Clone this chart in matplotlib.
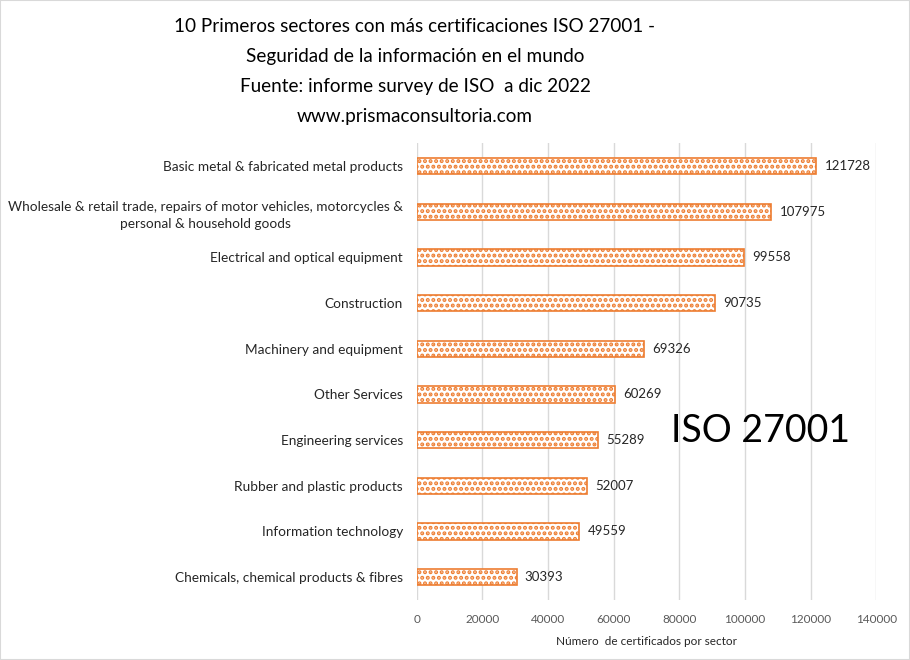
import matplotlib.pyplot as plt
from matplotlib.patches import Rectangle

plt.rcParams["font.family"] = ["Lato", "DejaVu Sans"]
plt.rcParams["hatch.color"] = "#ED7D31"
plt.rcParams["hatch.linewidth"] = 2.0

sectors = [
    "Basic metal & fabricated metal products",
    "Wholesale & retail trade, repairs of motor vehicles, motorcycles &\npersonal & household goods",
    "Electrical and optical equipment",
    "Construction",
    "Machinery and equipment",
    "Other Services",
    "Engineering services",
    "Rubber and plastic products",
    "Information technology",
    "Chemicals, chemical products & fibres",
]
certificates = [121728, 107975, 99558, 90735, 69326, 60269, 55289, 52007, 49559, 30393]
xticks = [0, 20000, 40000, 60000, 80000, 100000, 120000, 140000]

title = ("10 Primeros sectores con más certificaciones ISO 27001 -\n"
         "Seguridad de la información en el mundo\n"
         "Fuente: informe survey de ISO  a dic 2022\n"
         "www.prismaconsultoria.com")

fig = plt.figure(figsize=(9.1, 6.6), dpi=100)
ax = fig.add_axes([0.458, 0.091, 0.505, 0.692])

pos = list(range(len(sectors)))[::-1]
ax.barh(pos, certificates, height=0.36, color="white",
        edgecolor="#ED7D31", linewidth=1.2, hatch="...", zorder=3)
for p, v in zip(pos, certificates):
    ax.text(v + 2500, p, str(v), va="center", ha="left", fontsize=9.5, color="#262626")

ax.set_yticks(pos)
ax.set_yticklabels(sectors, fontsize=9.8, color="#262626", multialignment="center",
                   linespacing=1.5)
ax.set_ylim(-0.5, len(sectors) - 0.5)
ax.set_xlim(0, 140000)
ax.set_xticks(xticks)
ax.set_xticklabels([str(t) for t in xticks], fontsize=8.5, color="#595959")
ax.xaxis.grid(True, color="#D9D9D9", linewidth=1, zorder=0)
ax.tick_params(axis="both", length=0, pad=10)
for s in ax.spines.values():
    s.set_visible(False)
ax.set_xlabel("Número  de certificados por sector", fontsize=8.5, color="#262626", labelpad=8)

fig.text(0.456, 0.972, title, ha="center", va="top", fontsize=13.6, color="black",
         linespacing=1.92)
fig.text(0.836, 0.347, "ISO 27001", ha="center", va="center", fontsize=27, color="black")

fig.patches.append(Rectangle((0, 0), 1, 1, transform=fig.transFigure, fill=False,
                             edgecolor="#D9D9D9", linewidth=1.5))

fig.savefig("out.png", dpi=100)
